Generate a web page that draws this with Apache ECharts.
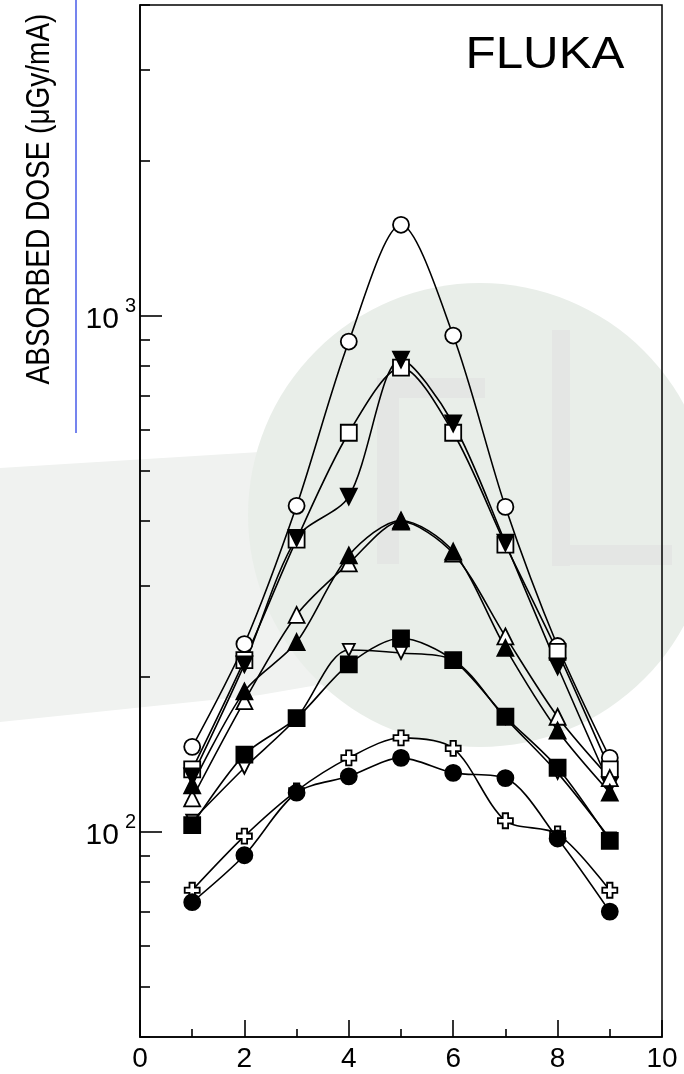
<!DOCTYPE html>
<html><head><meta charset="utf-8">
<script src="https://cdn.jsdelivr.net/npm/echarts@6/dist/echarts.min.js"></script>
<style>html,body{margin:0;padding:0;background:#fff}#c{width:684px;height:1074px}</style>
</head><body><div id="c"></div>
<script>
// ---- data ----
const xPositions = [1, 2, 3, 4, 5, 6, 7, 8, 9];
const openCircle        = [146, 231, 428, 891, 1500, 915, 426, 229, 139];
const openSquare        = [132, 215, 368, 593, 793, 593, 360, 223, 132];
const filledDownTri     = [128, 211, 371, 446, 822, 618, 363, 209, 123];
const openTriangle      = [116, 179, 263, 331, 399, 346, 239, 167, 127];
const filledTriangle    = [123, 187, 233, 343, 401, 349, 227, 157, 119];
const openDownTri       = [105, 133, 166, 225, 222, 215, 166, 130, 97];
const filledSquare      = [103, 141, 166, 211, 237, 215, 167, 133, 96];
const openCross         = [77, 98, 120, 139, 152, 145, 105, 99, 77];
const filledCircle      = [73, 90, 119, 128, 139, 130, 127, 97, 70];

const xTickLabels = ['0', '2', '4', '6', '8', '10'];
const yMajorTicks = [100, 1000];
const yMajorLabels = { 100: '2', 1000: '3' };
const yMinorTicks = [40, 50, 60, 70, 80, 90, 200, 300, 400, 500, 600, 700, 800, 900, 2000, 3000, 4000];
const yAxisTitle = 'ABSORBED DOSE (\u03bcGy/mA)';
const panelLabel = 'FLUKA';

const crossPath = 'path://M3.2,0H6.8V3.2H10V6.8H6.8V10H3.2V6.8H0V3.2H3.2Z';
const seriesDefs = [
  { name: 'open circle', data: openCircle, symbol: 'circle', filled: false, size: 16 },
  { name: 'open square', data: openSquare, symbol: 'rect', filled: false, size: 16 },
  { name: 'filled down triangle', data: filledDownTri, symbol: 'triangle', rotate: 180, filled: true, size: 16 },
  { name: 'open triangle', data: openTriangle, symbol: 'triangle', filled: false, size: 16 },
  { name: 'filled triangle', data: filledTriangle, symbol: 'triangle', filled: true, size: 16 },
  { name: 'open down triangle', data: openDownTri, symbol: 'triangle', rotate: 180, filled: false, size: 12 },
  { name: 'filled square', data: filledSquare, symbol: 'rect', filled: true, size: 16 },
  { name: 'open cross', data: openCross, symbol: crossPath, filled: false, size: 15 },
  { name: 'filled circle', data: filledCircle, symbol: 'circle', filled: true, size: 16 }
];

const FONT = 'Liberation Sans, Arial, sans-serif';
const chart = echarts.init(document.getElementById('c'), null, { renderer: 'canvas' });

const series = seriesDefs.map(d => ({
  name: d.name,
  type: 'line',
  smooth: 0.3,
  data: xPositions.map((x, i) => [x, d.data[i]]),
  symbol: d.symbol,
  symbolSize: d.size,
  symbolRotate: d.rotate || 0,
  showAllSymbol: true,
  lineStyle: { color: '#000', width: 1.6 },
  itemStyle: { color: d.filled ? '#000' : '#fff', borderColor: '#000', borderWidth: 1.8 },
  emphasis: { disabled: true },
  z: 3
}));

const option = {
  animation: false,
  backgroundColor: '#fff',
  grid: { left: 140, right: 22, top: 5, bottom: 37, show: true, borderColor: '#000', borderWidth: 1.5, backgroundColor: 'transparent' },
  xAxis: {
    type: 'value', min: 0, max: 10, interval: 2,
    axisLine: { lineStyle: { color: '#000', width: 1.6 } },
    axisTick: { inside: true, length: 17, lineStyle: { color: '#000', width: 1.6 } },
    minorTick: { show: true, splitNumber: 2, length: 8, lineStyle: { color: '#000', width: 1.6 } },
    splitLine: { show: false }, minorSplitLine: { show: false },
    axisLabel: { fontSize: 28, color: '#000', margin: 8, fontFamily: FONT,
      formatter: v => xTickLabels[Math.round(v / 2)] }
  },
  yAxis: [
    {
      type: 'log', logBase: 10, min: 40, max: 4000,
      axisLine: { show: true, lineStyle: { color: '#000', width: 1.6 } },
      axisTick: { show: true, inside: true, length: 22, customValues: yMajorTicks, lineStyle: { color: '#000', width: 1.6 } },
      splitLine: { show: false },
      axisLabel: {
        customValues: yMajorTicks, margin: 4,
        formatter: v => '{b|10}{s|' + (yMajorLabels[Math.round(v)] || '') + '}',
        rich: {
          b: { fontSize: 30, fontFamily: FONT, color: '#000', lineHeight: 38, verticalAlign: 'bottom', padding: [0, 6, 0, 0] },
          s: { fontSize: 20, fontFamily: FONT, color: '#000', lineHeight: 20, verticalAlign: 'top' }
        }
      }
    },
    {
      type: 'log', logBase: 10, min: 40, max: 4000, position: 'left',
      axisLine: { show: false },
      axisTick: { show: true, inside: true, length: 10, customValues: yMinorTicks, lineStyle: { color: '#000', width: 1.6 } },
      axisLabel: { show: false },
      splitLine: { show: false }
    }
  ],
  graphic: [
    // faint watermark of the source scan
    { type: 'polygon', z: -20, silent: true, shape: { points: [[0, 468], [260, 452], [520, 470], [520, 650], [260, 695], [0, 722]] }, style: { fill: '#f0f2f0' } },
    { type: 'circle', z: -19, silent: true, shape: { cx: 480, cy: 515, r: 232 }, style: { fill: '#e9eee9' } },
    { type: 'rect', z: -18, silent: true, shape: { x: 377, y: 378, width: 22, height: 186 }, style: { fill: '#e4e6e4' } },
    { type: 'rect', z: -18, silent: true, shape: { x: 377, y: 378, width: 108, height: 20 }, style: { fill: '#e4e6e4' } },
    { type: 'rect', z: -18, silent: true, shape: { x: 552, y: 330, width: 18, height: 236 }, style: { fill: '#e4e6e4' } },
    { type: 'rect', z: -18, silent: true, shape: { x: 552, y: 545, width: 120, height: 20 }, style: { fill: '#e4e6e4' } },
    // blue rule beside the title
    { type: 'line', z: 5, silent: true, shape: { x1: 76, y1: 0, x2: 76, y2: 433 }, style: { stroke: '#7584ee', lineWidth: 2 } },
    // axis title
    { type: 'text', z: 5, silent: true, x: 40, y: 199, rotation: Math.PI / 2, scaleY: 1.2,
      style: { text: yAxisTitle, font: '28px ' + FONT, fill: '#000', align: 'center', verticalAlign: 'middle' } },
    // panel label
    { type: 'text', z: 5, silent: true, x: 545, y: 56, scaleX: 1.12,
      style: { text: panelLabel, font: '44px ' + FONT, fill: '#000', align: 'center', verticalAlign: 'middle' } }
  ],
  series: series
};
chart.setOption(option);
</script>
</body></html>
